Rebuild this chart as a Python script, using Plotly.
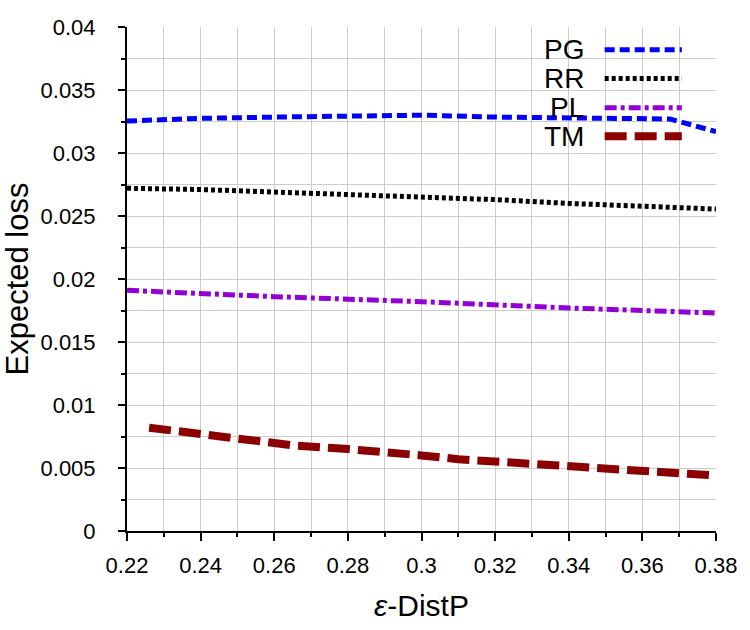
import plotly.graph_objects as go

# Data
pg_x = [0.22, 0.24, 0.26, 0.28, 0.30, 0.32, 0.34, 0.3675, 0.38]
pg_y = [0.03254, 0.03275, 0.03285, 0.03291, 0.0330, 0.03285, 0.03275, 0.0327, 0.0317]

rr_x = [0.22, 0.24, 0.26, 0.28, 0.30, 0.32, 0.34, 0.36, 0.38]
rr_y = [0.0272, 0.0271, 0.0269, 0.0267, 0.0265, 0.0263, 0.0260, 0.0258, 0.02555]

pl_x = [0.22, 0.26, 0.30, 0.34, 0.38]
pl_y = [0.0191, 0.0186, 0.0182, 0.0177, 0.0173]

tm_x = [0.226, 0.24, 0.25, 0.265, 0.28, 0.29, 0.30, 0.31, 0.32, 0.33, 0.34, 0.35, 0.36, 0.37, 0.38]
tm_y = [0.0082, 0.0077, 0.0074, 0.0068, 0.0065, 0.0063, 0.0060, 0.0057, 0.0055, 0.0054, 0.0052,
        0.0050, 0.0048, 0.0046, 0.0044]

names = ["PG", "RR", "PL", "TM"]
colors = ["#0000ff", "#000000", "#9400d3", "#8b0000"]
widths = [5, 5, 5, 8]
dashes = ["10px,5px", "4px,3px", "12px,4px,4px,4px", "22px,8px"]

FONT = "Liberation Sans, Arial, Helvetica, sans-serif"

fig = go.Figure()
series = [(pg_x, pg_y), (rr_x, rr_y), (pl_x, pl_y), (tm_x, tm_y)]
for (xs, ys), n, c, w, d in zip(series, names, colors, widths, dashes):
    fig.add_trace(go.Scatter(x=xs, y=ys, mode="lines", name=n,
                             line=dict(color=c, width=w, dash=d),
                             showlegend=False, cliponaxis=True))

# legend box (between gridlines and traces)
fig.add_shape(type="rect", xref="paper", yref="paper",
              x0=0.677, x1=0.97, y0=0.756, y1=0.99,
              fillcolor="white", line=dict(width=0), layer="between")

leg_y = [0.955, 0.898, 0.840, 0.783]
for n, c, w, d, yy in zip(names, colors, widths, dashes, leg_y):
    fig.add_annotation(xref="paper", yref="paper", x=0.78, y=yy, text=n,
                       showarrow=False, xanchor="right", yanchor="middle",
                       font=dict(family=FONT, size=28, color="black"))
    fig.add_shape(type="line", xref="paper", yref="paper",
                  x0=0.811, x1=0.942, y0=yy, y1=yy,
                  line=dict(color=c, width=w, dash=d), layer="above")

fig.update_xaxes(range=[0.22, 0.38], dtick=0.02, tick0=0.22,
                 showgrid=True, gridcolor="#cccccc", gridwidth=1,
                 showline=True, linecolor="black", linewidth=2,
                 ticks="outside", ticklen=8, tickwidth=2, tickcolor="black",
                 minor=dict(dtick=0.01, ticks="outside", ticklen=4, tickwidth=2,
                            tickcolor="black", showgrid=True, gridcolor="#cccccc", gridwidth=1),
                 tickfont=dict(family=FONT, size=22, color="black"),
                 ticklabelstandoff=6,
                 title=dict(text="<i>ε</i>-DistP", font=dict(family=FONT, size=30, color="black"),
                            standoff=18),
                 zeroline=False, mirror=False)
fig.update_yaxes(range=[0, 0.04], dtick=0.005, tick0=0,
                 showgrid=True, gridcolor="#cccccc", gridwidth=1,
                 showline=True, linecolor="black", linewidth=2,
                 ticks="outside", ticklen=7, tickwidth=2, tickcolor="black",
                 minor=dict(dtick=0.0025, ticks="outside", ticklen=4, tickwidth=2,
                            tickcolor="black", showgrid=True, gridcolor="#cccccc", gridwidth=1),
                 tickfont=dict(family=FONT, size=22, color="black"),
                 ticklabelstandoff=18,
                 title=dict(text="Expected loss", font=dict(family=FONT, size=31, color="black"),
                            standoff=8),
                 zeroline=False, mirror=False)

fig.update_layout(width=750, height=630,
                  margin=dict(l=127, r=34, t=27, b=99),
                  plot_bgcolor="white", paper_bgcolor="white",
                  showlegend=False)

fig.write_html("out.html")
